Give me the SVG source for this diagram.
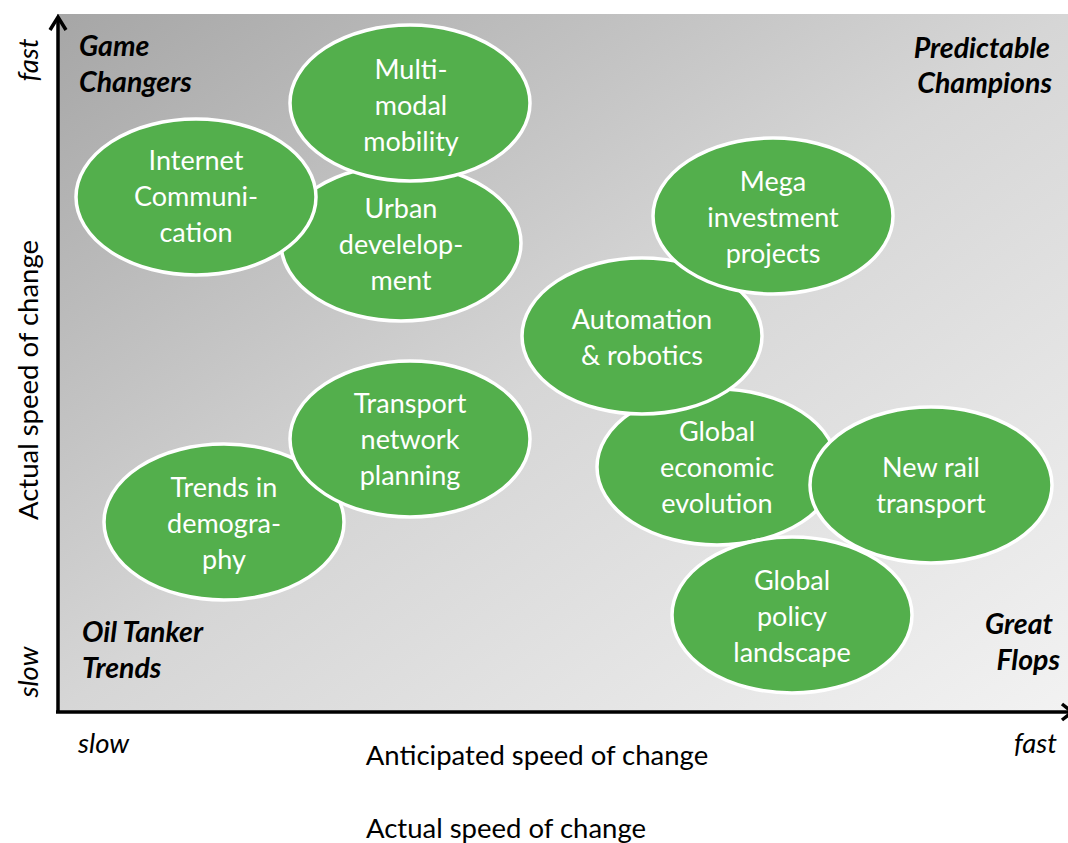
<svg xmlns="http://www.w3.org/2000/svg" width="1068" height="843" viewBox="0 0 1068 843">
<defs>
<linearGradient id="bg" x1="0" y1="0" x2="1" y2="1">
<stop offset="0" stop-color="#a6a6a6"/>
<stop offset="0.5" stop-color="#d6d6d6"/>
<stop offset="1" stop-color="#f2f2f2"/>
</linearGradient>
</defs>
<style>
.node ellipse{fill:#53af4c;stroke:#ffffff;stroke-width:3.5}
.node text{fill:#ffffff;font-family:Lato,"Liberation Sans",sans-serif;font-size:27px;text-anchor:middle}
.corner{fill:#000;font-family:Lato,"Liberation Sans",sans-serif;font-size:28.5px;font-weight:bold;font-style:italic}
.axis{fill:#000;font-family:Lato,"Liberation Sans",sans-serif;font-size:27.5px}
.it{font-style:italic}
.ax{stroke:#000;stroke-width:3.5;fill:none}
</style>
<rect x="57" y="14" width="1011" height="698" fill="url(#bg)"/>
<g id="connectors">
<line class="ax" x1="58" y1="713" x2="58" y2="17"/>
<polyline class="ax" points="50,30 58,17 66,30"/>
<line class="ax" x1="56" y1="712" x2="1068" y2="712"/>
<polyline class="ax" points="1062,704 1072,712 1062,720"/>
</g>
<text class="corner" x="79" y="56">Game</text>
<text class="corner" x="79" y="92">Changers</text>
<text class="corner" x="1050" y="58" text-anchor="end">Predictable</text>
<text class="corner" x="1052" y="93" text-anchor="end">Champions</text>
<text class="corner" x="82" y="642">Oil Tanker</text>
<text class="corner" x="82" y="678">Trends</text>
<text class="corner" x="1053" y="634" text-anchor="end">Great</text>
<text class="corner" x="1060" y="670" text-anchor="end">Flops</text>
<text class="axis" x="537" y="765" text-anchor="middle">Anticipated speed of change</text>
<text class="axis" x="506" y="838" text-anchor="middle">Actual speed of change</text>
<text class="axis" transform="translate(38,380) rotate(-90)" text-anchor="middle">Actual speed of change</text>
<text class="axis it" transform="translate(38,60) rotate(-90)" text-anchor="middle">fast</text>
<text class="axis it" transform="translate(38,672) rotate(-90)" text-anchor="middle">slow</text>
<text class="axis it" x="78" y="753">slow</text>
<text class="axis it" x="1057" y="753" text-anchor="end">fast</text>
<g id="urban" class="node"><ellipse cx="401" cy="243" rx="120" ry="78"/><text x="401" y="218">Urban</text><text x="401" y="254">develelop-</text><text x="401" y="290">ment</text></g>
<g id="internet" class="node"><ellipse cx="196" cy="197" rx="120" ry="78"/><text x="196" y="170">Internet</text><text x="196" y="206">Communi-</text><text x="196" y="242">cation</text></g>
<g id="multimodal" class="node"><ellipse cx="410" cy="103" rx="120" ry="78"/><text x="411" y="79">Multi-</text><text x="411" y="115">modal</text><text x="411" y="151">mobility</text></g>
<g id="economic" class="node"><ellipse cx="717" cy="467" rx="120" ry="78"/><text x="717" y="441">Global</text><text x="717" y="477">economic</text><text x="717" y="513">evolution</text></g>
<g id="newrail" class="node"><ellipse cx="931" cy="485" rx="121" ry="78"/><text x="931" y="477">New rail</text><text x="931" y="513">transport</text></g>
<g id="policy" class="node"><ellipse cx="792" cy="615" rx="120" ry="78"/><text x="792" y="590">Global</text><text x="792" y="626">policy</text><text x="792" y="662">landscape</text></g>
<g id="automation" class="node"><ellipse cx="642" cy="336" rx="120" ry="78"/><text x="642" y="329">Automation</text><text x="642" y="365">&amp; robotics</text></g>
<g id="mega" class="node"><ellipse cx="773" cy="216" rx="120" ry="78"/><text x="773" y="191">Mega</text><text x="773" y="227">investment</text><text x="773" y="263">projects</text></g>
<g id="demography" class="node"><ellipse cx="224" cy="522" rx="120" ry="78"/><text x="224" y="497">Trends in</text><text x="224" y="533">demogra-</text><text x="224" y="569">phy</text></g>
<g id="transport" class="node"><ellipse cx="410" cy="439" rx="120" ry="78"/><text x="410" y="413">Transport</text><text x="410" y="449">network</text><text x="410" y="485">planning</text></g>
</svg>
